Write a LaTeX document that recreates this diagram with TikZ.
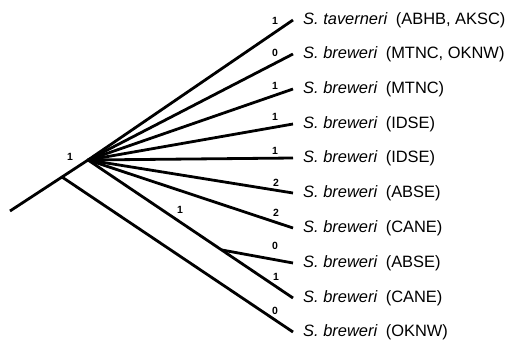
\documentclass[tikz,border=0pt]{standalone}
\usepackage{fontspec}
\setmainfont{Liberation Sans}
\begin{document}
\begin{tikzpicture}[x=1bp,y=-1bp,
  branch/.style={line width=2.8bp},
  taxon/.style={anchor=west,inner xsep=10bp,inner ysep=0pt,font=\fontsize{16.5}{19}\selectfont},
  num/.style={inner sep=0pt,font=\bfseries\fontsize{10.5}{11}\selectfont}]
\useasboundingbox (0,0) rectangle (516,339);
\coordinate (root) at (10,211);
\coordinate (A) at (62,177);
\coordinate (B) at (88,160);
\coordinate (C) at (222,250);
\newcommand{\tx}[2]{\textit{S. #1}\hspace{0.5em}(#2)}
\node[taxon] (t1) at (293,20) {\tx{taverneri}{ABHB, AKSC}};
\node[taxon] (t2) at (293,54) {\tx{breweri}{MTNC, OKNW}};
\node[taxon] (t3) at (293,89) {\tx{breweri}{MTNC}};
\node[taxon] (t4) at (293,124) {\tx{breweri}{IDSE}};
\node[taxon] (t5) at (293,158) {\tx{breweri}{IDSE}};
\node[taxon] (t6) at (293,193) {\tx{breweri}{ABSE}};
\node[taxon] (t7) at (293,228) {\tx{breweri}{CANE}};
\node[taxon] (t8) at (293,263) {\tx{breweri}{ABSE}};
\node[taxon] (t9) at (293,298) {\tx{breweri}{CANE}};
\node[taxon] (t10) at (293,332) {\tx{breweri}{OKNW}};
\draw[branch] (root) -- (B);
\foreach \t in {t1,t2,t3,t4,t5,t6,t7,t9}{\draw[branch] (B) -- (\t.west);}
\draw[branch] (C) -- (t8.west);
\draw[branch] (A) -- (t10.west);
\node[num] (n0) at (70,157) {1};
\node[num] (nc) at (180,210) {1};
\node[num] (n1) at (275,21) {1};
\node[num] (n2) at (275,53) {0};
\node[num] (n3) at (275,86) {1};
\node[num] (n4) at (275,117) {1};
\node[num] (n5) at (275,151) {1};
\node[num] (n6) at (276,183) {2};
\node[num] (n7) at (276,213) {2};
\node[num] (n8) at (275,246) {0};
\node[num] (n9) at (276,277) {1};
\node[num] (n10) at (275,311) {0};
\end{tikzpicture}
\end{document}
